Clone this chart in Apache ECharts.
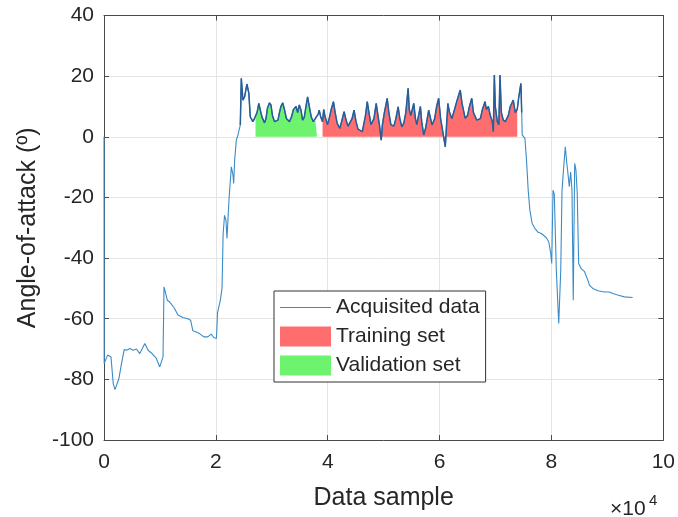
<!DOCTYPE html>
<html>
<head>
<meta charset="utf-8">
<script src="https://cdn.jsdelivr.net/npm/echarts@6/dist/echarts.min.js"></script>
<style>
html,body{margin:0;padding:0;background:#fff;}
#chart{width:678px;height:517px;}
</style>
</head>
<body>
<div id="chart"></div>
<script>
// Data sample index
var sampleX = [
  0, 30, 640, 1245, 1650, 1960, 2250, 2670, 3130, 3610, 4020, 4630, 5210, 5800, 6400, 7300, 7880, 8470, 9360, 9960,
  10550, 10730, 11030, 11320, 11740, 12510, 13220, 14110, 15000, 15480, 15890, 16480, 17080, 17850, 18560, 19150, 19630, 20100,
  20300, 20800, 21100, 21300, 21550, 21800, 21990, 22340, 22770, 23060, 23180, 23360, 23660, 23950, 24370, 24550, 24830, 25140,
  25550, 25900, 26150, 26610, 26920,
  27090, 27360, 27680, 27980, 28250, 28700, 28960, 29230, 29590, 29850, 30120, 30480, 30780, 31100, 31370, 31630, 31960, 32260,
  32620, 33150, 33510, 33870, 34330, 34620, 34920, 35190, 35510, 35810, 36110, 36400, 36700, 37060, 37410, 37770, 38070,
  38300, 38480, 38750, 39070,
  39280, 39550, 39960, 40260, 40620, 41020, 41330, 41680, 42160, 42480, 42930, 43280, 43640, 43990, 44350, 44710, 45060, 45420,
  46180, 46480, 46750, 47070, 47370, 47730, 47960, 48260, 48670, 48980, 49240, 49560, 49780, 50130, 50630, 50930, 51290, 51520,
  51820, 52180, 52590, 52890, 53250, 53600, 53960, 54370, 54580, 54850, 55380, 55680, 55920, 56570, 56800, 57160, 57520, 58050,
  58640, 59120, 59470, 59830, 60180, 60540, 61020, 61250, 61480, 61780, 62190, 62670, 63120, 63690, 64010, 64580, 64990, 65340,
  65750, 66050, 66640, 67300, 67650, 68130, 68360, 68720, 69070, 69430, 69610, 69790, 69960, 70320, 70590, 70800, 71040, 71390,
  71750, 72280, 72640, 73170, 73530, 73880, 74150, 74540, 74680, 74770,
  75250, 75540, 75840, 76140, 76550, 77030, 77620, 78200, 79090, 79520, 79870, 80050, 80280, 80510, 80870, 81300, 81660, 81890,
  82240, 82470, 82720, 82950, 83190, 83430, 83670, 83900, 84150, 84380, 84610, 84860, 85320, 85920, 86510, 86810, 87400, 88290,
  89480, 90370, 90960, 91850, 93040, 94520
];
// Angle-of-attack (deg)
var angleDeg = [
  0, -74.8, -72.0, -72.6, -81.4, -83.4, -83, -79.7, -74.8, -70.2, -70.4, -69.8, -70.4, -70, -71.5, -68.2, -70.4, -71.3, -73.1, -75.9,
  -72.6, -49.5, -50, -53.9, -54.5, -56.3, -58.8, -59.6, -60, -60.5, -64, -64.4, -64.9, -66, -66, -65.1, -66.2, -66.5,
  -58, -53.9, -50, -32, -25.9, -27.5, -33.5, -20.9, -9.9, -12.6, -15.4, -7.7, -1.1, 0.6, 3.9, 19.3, 12.1, 13.2,
  17.4, 14.3, 6.6, 5, 6.1,
  6, 8, 11, 8.5, 6.5, 4.6, 6, 9.5, 11.2, 10.5, 7, 5, 4.4, 5.5, 8, 10, 11.2, 9,
  6, 5, 6.5, 9, 10, 8, 10.5, 9, 5.5, 6.5, 10, 13.2, 10, 6.5, 5, 6, 5.5,
  7.5, 8.8, 6.5, 5,
  9, 6.5, 4, 6, 9, 11.6, 8, 4.5, 2.8, 5, 8.3, 5.5, 3.5, 3.3, 6, 8.8, 5, 2.5,
  1.7, 2.2, 7, 11.6, 8, 4, 3.5, 6, 11, 7, 4, -1.1, 4, 8, 12.7, 8, 4, 4,
  3.5, 6, 9.9, 6, 3.3, 4.5, 8, 16, 9, 7, 11, 6, 4, 10, 5, 0.6, 3, 8.8,
  3.9, 6, 10, 12.7, 6, 2, -3.3, 4, 11, 8, 6, 9, 12, 15.4, 11, 6.1, 7, 10,
  12.7, 8, 5.5, 6, 9, 11.6, 9, 10, 7, 5, 1.7, 20.4, 10, 5, 4, 20.4, 8, 5.5,
  5, 7, 10, 12.1, 8, 9, 13, 17.6, 8, 0.6,
  -0.5, -7.7, -17.6, -24.2, -28.6, -30.2, -31.5, -31.9, -33.3, -34.7, -38.5, -41.8, -17.6, -19, -44, -61.6, -44, -17.5,
  -8.8, -3.3, -8.3, -12.1, -16.5, -11.6, -17.6, -53.9, -8.8, -11, -18.7, -41.8, -43.5, -44.5, -47.3, -49, -50, -50.8,
  -51.2, -51.2, -51.7, -52.2, -52.8, -53
];
var validationRange = [27090, 38070];
var trainingRange = [39070, 73880];
var denseRange = [24300, 74700];
var yTicks = [-100, -80, -60, -40, -20, 0, 20, 40];
var xTickLabels = ['0', '2', '4', '6', '8', '10'];

var lineData = sampleX.map(function (x, i) { return [x, angleDeg[i]]; });
function subset(r) {
  return lineData.filter(function (p) { return p[0] >= r[0] && p[0] <= r[1]; });
}

var FONT = '"Liberation Sans", Arial, Helvetica, sans-serif';
var axisColor = '#4a4a4a';
var gridColor = '#e4e4e4';
var RED = '#ff6e6e', GREEN = '#6ef36e', BLUE = '#3a8cc8', DARK = '#2a5c96';

var chart = echarts.init(document.getElementById('chart'), null, {renderer: 'canvas'});
chart.setOption({
  animation: false,
  backgroundColor: '#fff',
  textStyle: {fontFamily: FONT},
  grid: {left: 104, right: 13, top: 15.5, bottom: 77, containLabel: false},
  xAxis: [{
    type: 'value', min: 0, max: 100000, interval: 20000,
    name: 'Data sample', nameLocation: 'middle', nameGap: 46,
    nameTextStyle: {fontSize: 25, color: '#262626', fontFamily: FONT},
    axisLine: {show: true, onZero: false, lineStyle: {color: axisColor, width: 1}},
    axisTick: {show: true, inside: true, length: 5, lineStyle: {color: axisColor}},
    axisLabel: {fontSize: 21, color: '#262626', margin: 12, fontFamily: FONT,
      formatter: function (v) { return xTickLabels[Math.round(v / 20000)]; }},
    splitLine: {show: true, lineStyle: {color: gridColor, width: 1}}
  }, {
    type: 'value', min: 0, max: 100000, interval: 20000, position: 'top',
    axisLine: {show: true, onZero: false, lineStyle: {color: axisColor, width: 1}},
    axisTick: {show: true, inside: true, length: 5, lineStyle: {color: axisColor}},
    axisLabel: {show: false}, splitLine: {show: false}
  }],
  yAxis: [{
    type: 'value', min: yTicks[0], max: yTicks[yTicks.length - 1], interval: 20,
    name: 'Angle-of-attack (º)', nameLocation: 'middle', nameGap: 62,
    nameTextStyle: {fontSize: 25, color: '#262626', fontFamily: FONT},
    axisLine: {show: true, onZero: false, lineStyle: {color: axisColor, width: 1}},
    axisTick: {show: true, inside: true, length: 5, lineStyle: {color: axisColor}},
    axisLabel: {fontSize: 21, color: '#262626', margin: 10, fontFamily: FONT},
    splitLine: {show: true, lineStyle: {color: gridColor, width: 1}}
  }, {
    type: 'value', min: -100, max: 40, interval: 20, position: 'right',
    axisLine: {show: true, onZero: false, lineStyle: {color: axisColor, width: 1}},
    axisTick: {show: true, inside: true, length: 5, lineStyle: {color: axisColor}},
    axisLabel: {show: false}, splitLine: {show: false}
  }],
  legend: {
    orient: 'vertical', left: 274, top: 291,
    padding: [6, 6, 6, 6], itemGap: 8, itemWidth: 51, itemHeight: 20,
    itemTextGap: 5,
    borderColor: '#333', borderWidth: 1, backgroundColor: '#fff',
    textStyle: {fontSize: 21, color: '#262626', fontFamily: FONT, lineHeight: 20},
    data: [
      {name: 'Acquisited data', icon: 'path://M0,0 H51 V1 H0 Z', itemStyle: {color: BLUE}},
      {name: 'Training set', icon: 'rect', itemStyle: {color: RED}},
      {name: 'Validation set', icon: 'rect', itemStyle: {color: GREEN}}
    ]
  },
  graphic: [
    {type: 'text', left: 610, top: 499, style: {text: '×10', fontSize: 21, fill: '#262626', fontFamily: FONT}},
    {type: 'text', left: 649, top: 493, style: {text: '4', fontSize: 15, fill: '#262626', fontFamily: FONT}}
  ],
  series: [
    {name: 'Training set', type: 'line', data: subset(trainingRange), symbol: 'none', showSymbol: false,
      lineStyle: {width: 0, color: RED}, itemStyle: {color: RED},
      areaStyle: {color: RED, opacity: 1, origin: 'auto'}, z: 1},
    {name: 'Validation set', type: 'line', data: subset(validationRange), symbol: 'none', showSymbol: false,
      lineStyle: {width: 0, color: GREEN}, itemStyle: {color: GREEN},
      areaStyle: {color: GREEN, opacity: 1, origin: 'auto'}, z: 1},
    {name: 'Acquisited data', type: 'line', data: lineData, symbol: 'none', showSymbol: false,
      lineStyle: {width: 1.1, color: BLUE}, itemStyle: {color: BLUE}, z: 3},
    {name: 'Acquisited data', type: 'line', data: subset(denseRange), symbol: 'none', showSymbol: false,
      lineStyle: {width: 1.5, color: DARK}, itemStyle: {color: DARK}, z: 4}
  ]
});
</script>
</body>
</html>
